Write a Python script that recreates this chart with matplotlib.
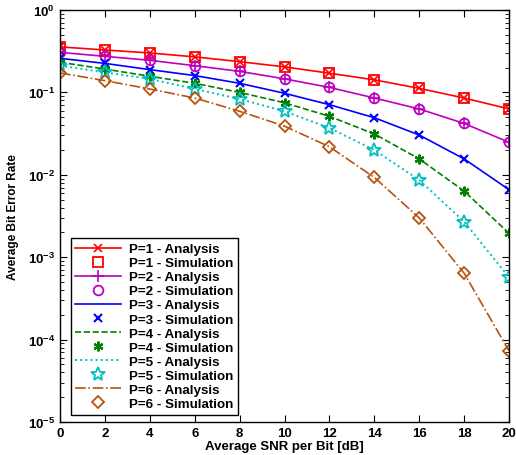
import matplotlib
matplotlib.use("Agg")
import matplotlib.pyplot as plt
import numpy as np

plt.rcParams['font.family'] = ['Liberation Sans', 'DejaVu Sans']
plt.rcParams['font.weight'] = 'bold'
plt.rcParams['mathtext.default'] = 'bf'

snr = [0, 2, 4, 6, 8, 10, 12, 14, 16, 18, 20]

p1_ana = [0.357, 0.327, 0.301, 0.270, 0.236, 0.204, 0.171, 0.142, 0.112, 0.0855, 0.063]
p1_sim = [0.357, 0.327, 0.301, 0.270, 0.236, 0.204, 0.171, 0.142, 0.112, 0.0855, 0.063]
p2_ana = [0.306, 0.274, 0.245, 0.211, 0.180, 0.146, 0.115, 0.0855, 0.063, 0.042, 0.0248]
p2_sim = [0.306, 0.274, 0.245, 0.211, 0.180, 0.146, 0.115, 0.0855, 0.063, 0.042, 0.0248]
p3_ana = [0.259, 0.225, 0.189, 0.160, 0.129, 0.0975, 0.071, 0.0493, 0.0304, 0.0156, 0.0066]
p3_sim = [0.259, 0.225, 0.189, 0.160, 0.129, 0.0975, 0.071, 0.0493, 0.0304, 0.0156, 0.0066]
p4_ana = [0.232, 0.192, 0.157, 0.129, 0.100, 0.0748, 0.0513, 0.0313, 0.0156, 0.00635, 0.00195]
p4_sim = [0.232, 0.192, 0.157, 0.129, 0.100, 0.0748, 0.0513, 0.0313, 0.0156, 0.00635, 0.00195]
p5_ana = [0.211, 0.175, 0.146, 0.110, 0.0832, 0.059, 0.037, 0.020, 0.00865, 0.0027, 0.00057]
p5_sim = [0.211, 0.175, 0.146, 0.110, 0.0832, 0.059, 0.037, 0.020, 0.00865, 0.0027, 0.00057]
p6_ana = [0.172, 0.139, 0.110, 0.0855, 0.059, 0.039, 0.0219, 0.0093, 0.0030, 0.00064, 7.3e-5]
p6_sim = [0.172, 0.139, 0.110, 0.0855, 0.059, 0.039, 0.0219, 0.0093, 0.0030, 0.00064, 7.3e-5]

labels = ['P=1 - Analysis', 'P=1 - Simulation', 'P=2 - Analysis', 'P=2 - Simulation',
          'P=3 - Analysis', 'P=3 - Simulation', 'P=4 - Analysis', 'P=4 - Simulation',
          'P=5 - Analysis', 'P=5 - Simulation', 'P=6 - Analysis', 'P=6 - Simulation']

fig = plt.figure(figsize=(5.16, 4.56), dpi=100)
ax = fig.add_axes([60/516, 1-423/456, 449/516, 412/456])

green = '#008000'
brown = '#b8520f'
ax.semilogy(snr, p1_ana, color='r', ls='-', marker='x', ms=6, lw=1.2, mew=1.2, label=labels[0])
ax.semilogy(snr, p1_sim, color='r', ls='none', marker='s', ms=6.5, mfc='none', mew=1.3, label=labels[1])
ax.semilogy(snr, p2_ana, color='m', ls='-', marker='+', ms=8, lw=1.2, mew=1.2, label=labels[2])
ax.semilogy(snr, p2_sim, color='m', ls='none', marker='o', ms=7, mfc='none', mew=1.3, label=labels[3])
ax.semilogy(snr, p3_ana, color='b', ls='-', lw=1.2, label=labels[4])
ax.semilogy(snr, p3_sim, color='b', ls='none', marker='x', ms=6, mew=1.5, label=labels[5])
ax.semilogy(snr, p4_ana, color=green, ls='--', lw=1.2, label=labels[6])
ax.semilogy(snr, p4_sim, color=green, ls='none', marker=(6, 2, 0), ms=7, mew=1.6, label=labels[7])
ax.semilogy(snr, p5_ana, color='c', ls=':', lw=1.4, label=labels[8])
ax.semilogy(snr, p5_sim, color='c', ls='none', marker='*', ms=10, mfc='none', mew=1.3, label=labels[9])
ax.semilogy(snr, p6_ana, color=brown, ls='-.', lw=1.2, label=labels[10])
ax.semilogy(snr, p6_sim, color=brown, ls='none', marker='D', ms=6, mfc='none', mew=1.3, label=labels[11])

ax.set_xlim(0, 20)
ax.set_ylim(1e-5, 1)
ax.set_xticks(snr)
ax.tick_params(which='both', direction='in', top=True, right=True, labelsize=9.5)
ax.tick_params(which='major', length=5)
ax.tick_params(which='minor', length=3)
for lab in ax.get_xticklabels() + ax.get_yticklabels():
    lab.set_fontweight('bold')
for s in ax.spines.values():
    s.set_linewidth(1.0)

ax.set_xlabel('Average SNR per Bit [dB]', fontsize=9.5, fontweight='bold', labelpad=1)
ax.set_ylabel('Average Bit Error Rate', fontsize=8.5, fontweight='bold', labelpad=6)

leg = ax.legend(loc='lower left', bbox_to_anchor=(0.024, 0.018), fontsize=9.6, frameon=True,
                fancybox=False, edgecolor='black', framealpha=1, handlelength=3.4,
                borderpad=0.35, labelspacing=0.13, handletextpad=0.6, borderaxespad=0)
leg.get_frame().set_linewidth(1.0)
for t in leg.get_texts():
    t.set_fontweight('bold')

fig.savefig('out.png', dpi=100)
